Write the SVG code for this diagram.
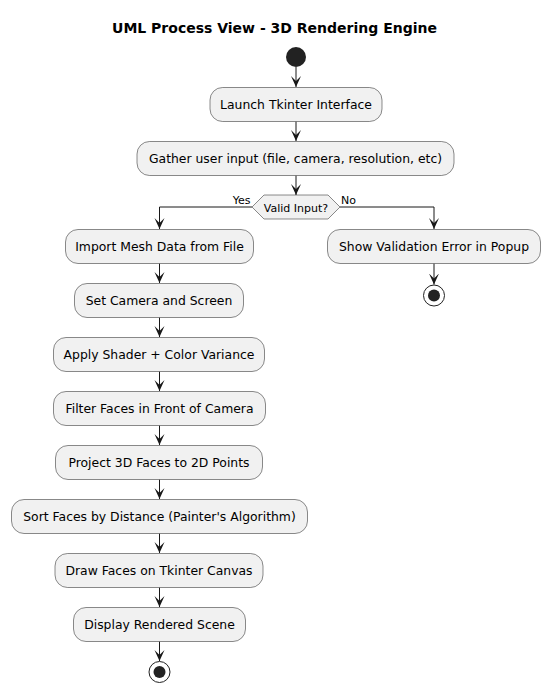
<svg xmlns="http://www.w3.org/2000/svg" width="550" height="692" viewBox="0 0 550 692">
<style>
.act rect{fill:#F1F1F1;stroke:#181818;stroke-width:0.5}
.act text{font-family:"DejaVu Sans",sans-serif;font-size:12.4px;fill:#000;text-anchor:middle}
.lbl{font-family:"DejaVu Sans",sans-serif;font-size:11px;fill:#000}
.con{fill:none;stroke:#181818;stroke-width:1;marker-end:url(#ah)}
</style>
<defs>
<marker id="ah" markerUnits="userSpaceOnUse" markerWidth="12" markerHeight="12" refX="11" refY="5" orient="auto" viewBox="0 0 12 12">
<path d="M0,0 L11,5 L0,10 L5,5 Z" fill="#181818"/>
</marker>
</defs>
<rect width="550" height="692" fill="#FFFFFF"/>
<text x="274.5" y="33" font-family="DejaVu Sans, sans-serif" font-size="14" font-weight="bold" text-anchor="middle">UML Process View - 3D Rendering Engine</text>

<g id="connectors">
<path class="con" d="M296,67 L296,87"/>
<path class="con" d="M296,121.5 L296,141"/>
<path class="con" d="M296,175.5 L296,195"/>
<path class="con" d="M252,207 L159.5,207 L159.5,229"/>
<path class="con" d="M340,207 L434,207 L434,229"/>
<path class="con" d="M159.5,263.5 L159.5,283"/>
<path class="con" d="M159.5,317.5 L159.5,337"/>
<path class="con" d="M159.5,371.5 L159.5,391"/>
<path class="con" d="M159.5,425.5 L159.5,445"/>
<path class="con" d="M159.5,479.5 L159.5,499"/>
<path class="con" d="M159.5,533.5 L159.5,553"/>
<path class="con" d="M159.5,587.5 L159.5,607"/>
<path class="con" d="M159.5,641.5 L159.5,661"/>
<path class="con" d="M434,263.5 L434,284.5"/>
<text class="lbl" x="250.5" y="204" text-anchor="end">Yes</text>
<text class="lbl" x="341" y="204">No</text>
</g>

<g id="start"><circle cx="296" cy="57" r="10" fill="#222222"/></g>

<g id="launch" class="act"><rect x="210" y="87.5" width="172" height="34" rx="12.5"/><text x="296" y="108.5">Launch Tkinter Interface</text></g>
<g id="gather" class="act"><rect x="137" y="141.5" width="317" height="34" rx="12.5"/><text x="295.5" y="162.5">Gather user input (file, camera, resolution, etc)</text></g>

<g id="decision">
<polygon points="252,207 264,195 328,195 340,207 328,219 264,219" fill="#F1F1F1" stroke="#181818" stroke-width="0.5"/>
<text class="lbl" x="296" y="211.5" text-anchor="middle">Valid Input?</text>
</g>

<g id="import" class="act"><rect x="65.5" y="229.5" width="188" height="34" rx="12.5"/><text x="159.5" y="250.5">Import Mesh Data from File</text></g>
<g id="camera" class="act"><rect x="74.5" y="283.5" width="169" height="34" rx="12.5"/><text x="159" y="304.5">Set Camera and Screen</text></g>
<g id="shader" class="act"><rect x="53.5" y="337.5" width="211" height="34" rx="12.5"/><text x="159" y="358.5">Apply Shader + Color Variance</text></g>
<g id="filter" class="act"><rect x="53.5" y="391.5" width="212" height="34" rx="12.5"/><text x="159.5" y="412.5">Filter Faces in Front of Camera</text></g>
<g id="project" class="act"><rect x="55.5" y="445.5" width="207" height="34" rx="12.5"/><text x="159" y="466.5">Project 3D Faces to 2D Points</text></g>
<g id="sort" class="act"><rect x="11.5" y="499.5" width="296" height="34" rx="12.5"/><text x="159.5" y="520.5">Sort Faces by Distance (Painter's Algorithm)</text></g>
<g id="draw" class="act"><rect x="55" y="553.5" width="208" height="34" rx="12.5"/><text x="159" y="574.5">Draw Faces on Tkinter Canvas</text></g>
<g id="display" class="act"><rect x="73.5" y="607.5" width="172" height="34" rx="12.5"/><text x="159.5" y="628.5">Display Rendered Scene</text></g>

<g id="error" class="act"><rect x="327.5" y="229.5" width="213" height="34" rx="12.5"/><text x="434" y="250.5">Show Validation Error in Popup</text></g>

<g id="end-error"><circle cx="434" cy="295.5" r="10.5" fill="none" stroke="#222222" stroke-width="1"/><circle cx="434" cy="295.5" r="6" fill="#222222"/></g>
<g id="end-main"><circle cx="159.5" cy="672" r="10.5" fill="none" stroke="#222222" stroke-width="1"/><circle cx="159.5" cy="672" r="6" fill="#222222"/></g>
</svg>
